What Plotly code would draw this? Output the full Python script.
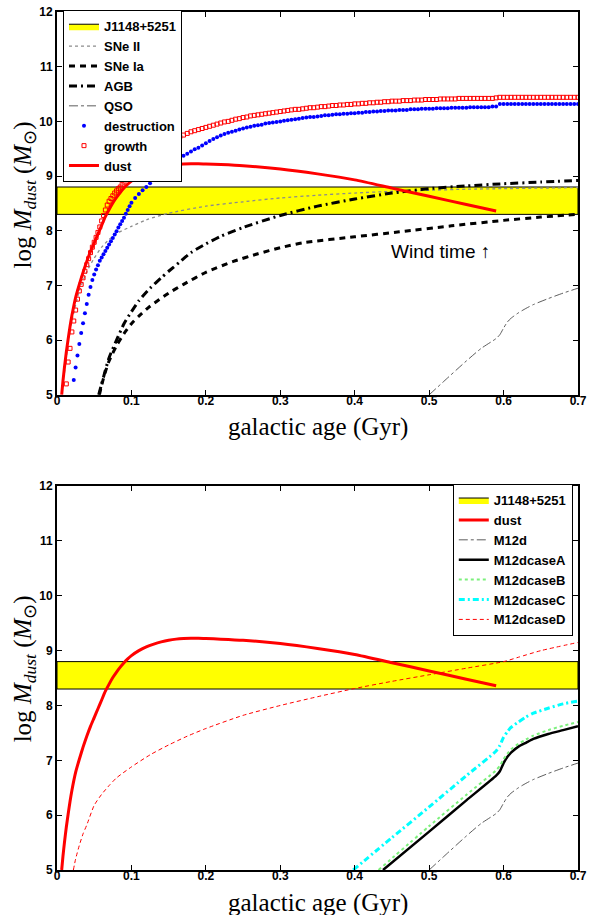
import plotly.graph_objects as go

# ---------------- data ----------------
# observed dust mass range of J1148+5251 (log Msun)
band_lo, band_hi = 8.3, 8.8

# dust (net) evolution, shared by both panels
dust_t = [0.0063, 0.008, 0.01, 0.0125, 0.015, 0.0175, 0.02, 0.025, 0.03, 0.035,
          0.04, 0.045, 0.05, 0.055, 0.06, 0.065, 0.07, 0.075, 0.08, 0.085,
          0.09, 0.095, 0.1, 0.11, 0.12, 0.13, 0.14, 0.15, 0.16, 0.17,
          0.18, 0.19, 0.2, 0.22, 0.25, 0.3, 0.35, 0.4, 0.45, 0.5, 0.55, 0.59]
dust_m = [5.0, 5.25, 5.5, 5.78, 6.02, 6.25, 6.45, 6.78, 7.02, 7.24,
          7.44, 7.62, 7.78, 7.94, 8.1, 8.26, 8.39, 8.51, 8.61, 8.7,
          8.78, 8.85, 8.91, 9.0, 9.07, 9.12, 9.16, 9.19, 9.21, 9.22,
          9.225, 9.225, 9.22, 9.21, 9.19, 9.13, 9.04, 8.93, 8.78, 8.63, 8.48, 8.36]

# stellar sources
sn2_t = [0.01, 0.015, 0.02, 0.03, 0.04, 0.05, 0.06, 0.07, 0.08, 0.1, 0.12, 0.15,
         0.2, 0.25, 0.3, 0.35, 0.4, 0.45, 0.5, 0.55, 0.6, 0.65, 0.7]
sn2_m = [5.4, 5.95, 6.35, 6.9, 7.25, 7.5, 7.7, 7.84, 7.95, 8.08, 8.2, 8.32,
         8.45, 8.53, 8.6, 8.65, 8.69, 8.72, 8.74, 8.76, 8.77, 8.78, 8.79]

sn1a_t = [0.057, 0.06, 0.065, 0.07, 0.08, 0.09, 0.1, 0.11, 0.125, 0.15, 0.17, 0.2,
          0.237, 0.27, 0.3, 0.33, 0.4, 0.46, 0.53, 0.6, 0.65, 0.7]
sn1a_m = [5.0, 5.18, 5.42, 5.62, 5.9, 6.12, 6.3, 6.44, 6.62, 6.86, 7.02, 7.24,
          7.44, 7.58, 7.69, 7.78, 7.89, 7.98, 8.09, 8.19, 8.25, 8.3]

agb_t = [0.056, 0.06, 0.065, 0.07, 0.08, 0.09, 0.1, 0.11, 0.125, 0.14, 0.15, 0.165,
         0.18, 0.2, 0.22, 0.25, 0.3, 0.35, 0.4, 0.45, 0.5, 0.55, 0.6, 0.65, 0.7]
agb_m = [5.0, 5.2, 5.45, 5.68, 6.0, 6.3, 6.52, 6.72, 6.95, 7.14, 7.26, 7.43,
         7.6, 7.76, 7.9, 8.06, 8.28, 8.45, 8.58, 8.69, 8.77, 8.82, 8.86, 8.89, 8.92]

qso_t = [0.5, 0.52, 0.55, 0.57, 0.59, 0.595, 0.6, 0.605, 0.61, 0.62, 0.63, 0.64,
         0.66, 0.68, 0.7]
qso_m = [5.0, 5.25, 5.62, 5.85, 6.03, 6.1, 6.22, 6.33, 6.4, 6.5, 6.58, 6.65,
         6.76, 6.86, 6.95]

# ISM processes sampled on the model time grid
t_late = [0.105, 0.11, 0.115, 0.12, 0.125, 0.13, 0.135, 0.14, 0.145, 0.15,
          0.155, 0.16, 0.165, 0.17, 0.175, 0.18, 0.185, 0.19, 0.195, 0.2,
          0.205, 0.21, 0.215, 0.22, 0.225, 0.23, 0.235, 0.24, 0.245, 0.25,
          0.255, 0.26, 0.265, 0.27, 0.275, 0.28, 0.285, 0.29, 0.295, 0.3,
          0.305, 0.31, 0.315, 0.32, 0.325, 0.33, 0.335, 0.34, 0.345, 0.35,
          0.355, 0.36, 0.365, 0.37, 0.375, 0.38, 0.385, 0.39, 0.395, 0.4,
          0.405, 0.41, 0.415, 0.42, 0.425, 0.43, 0.435, 0.44, 0.445, 0.45,
          0.455, 0.46, 0.465, 0.47, 0.475, 0.48, 0.485, 0.49, 0.495, 0.5,
          0.505, 0.51, 0.515, 0.52, 0.525, 0.53, 0.535, 0.54, 0.545, 0.55,
          0.555, 0.56, 0.565, 0.57, 0.575, 0.58, 0.585, 0.59, 0.595, 0.6,
          0.605, 0.61, 0.615, 0.62, 0.625, 0.63, 0.635, 0.64, 0.645, 0.65,
          0.655, 0.66, 0.665, 0.67, 0.675, 0.68, 0.685, 0.69, 0.695, 0.7]

growth_t_early = [0.0125, 0.015, 0.0175, 0.02, 0.0225, 0.025, 0.0275, 0.03, 0.0325,
                  0.035, 0.0375, 0.04, 0.0425, 0.045, 0.0475, 0.05, 0.0525, 0.055,
                  0.0575, 0.06, 0.0625, 0.065, 0.0675, 0.07, 0.0725, 0.075, 0.0775,
                  0.08, 0.0825, 0.085, 0.0875, 0.09, 0.0925, 0.095, 0.0975, 0.1]
growth_m = [5.2, 5.6, 5.85, 6.15, 6.35, 6.55, 6.75, 6.9, 7.02,
            7.14, 7.26, 7.38, 7.49, 7.6, 7.7, 7.79, 7.88, 7.97,
            8.07, 8.18, 8.28, 8.38, 8.47, 8.54, 8.59, 8.64, 8.69,
            8.73, 8.77, 8.8, 8.85, 8.89, 8.94, 8.98, 9.02, 9.06,
            9.13, 9.2, 9.26, 9.32, 9.39, 9.45, 9.5, 9.55, 9.59, 9.63,
            9.66, 9.69, 9.72, 9.75, 9.78, 9.81, 9.83, 9.85, 9.87, 9.89,
            9.91, 9.93, 9.95, 9.97, 9.99, 10.0, 10.02, 10.04, 10.05, 10.07,
            10.08, 10.1, 10.11, 10.12, 10.13, 10.14, 10.15, 10.16, 10.17, 10.18,
            10.19, 10.2, 10.21, 10.22, 10.22, 10.23, 10.24, 10.25, 10.25, 10.26,
            10.27, 10.27, 10.28, 10.29, 10.29, 10.3, 10.3, 10.31, 10.31, 10.32,
            10.32, 10.33, 10.33, 10.34, 10.34, 10.35, 10.35, 10.36, 10.36, 10.37,
            10.37, 10.37, 10.38, 10.38, 10.38, 10.39, 10.39, 10.39, 10.4, 10.4,
            10.4, 10.4, 10.41, 10.41, 10.41, 10.41, 10.41, 10.42, 10.42, 10.42,
            10.42, 10.42, 10.42, 10.42, 10.42, 10.42, 10.42, 10.43, 10.44, 10.44,
            10.44, 10.44, 10.44, 10.44, 10.44, 10.44, 10.44, 10.44, 10.44, 10.44,
            10.44, 10.44, 10.44, 10.44, 10.44, 10.44, 10.44, 10.44, 10.44, 10.44]

destr_t_early = [0.0225, 0.025, 0.0275, 0.03, 0.0325, 0.035, 0.0375, 0.04,
                 0.0425, 0.045, 0.0475, 0.05, 0.0525, 0.055, 0.0575, 0.06,
                 0.0625, 0.065, 0.0675, 0.07, 0.0725, 0.075, 0.0775, 0.08,
                 0.0825, 0.085, 0.0875, 0.09, 0.0925, 0.095, 0.0975, 0.1]
destr_m = [5.27, 5.5, 5.72, 5.93, 6.13, 6.31, 6.49, 6.66,
           6.83, 6.97, 7.1, 7.2, 7.29, 7.37, 7.45, 7.51,
           7.57, 7.63, 7.69, 7.75, 7.81, 7.87, 7.93, 7.99,
           8.06, 8.12, 8.18, 8.24, 8.31, 8.38, 8.45, 8.51,
           8.6, 8.67, 8.74, 8.8, 8.87, 8.93, 8.99, 9.05, 9.12, 9.18,
           9.23, 9.28, 9.32, 9.37, 9.41, 9.45, 9.49, 9.52, 9.56, 9.6,
           9.64, 9.68, 9.71, 9.74, 9.77, 9.79, 9.81, 9.83, 9.85, 9.87,
           9.89, 9.9, 9.92, 9.93, 9.94, 9.96, 9.97, 9.98, 9.99, 10.0,
           10.01, 10.02, 10.03, 10.04, 10.05, 10.06, 10.07, 10.08, 10.08, 10.09,
           10.1, 10.11, 10.11, 10.12, 10.13, 10.13, 10.14, 10.14, 10.15, 10.15,
           10.16, 10.16, 10.17, 10.17, 10.18, 10.18, 10.19, 10.19, 10.2, 10.2,
           10.2, 10.21, 10.21, 10.21, 10.22, 10.22, 10.22, 10.23, 10.23, 10.23,
           10.23, 10.24, 10.24, 10.24, 10.24, 10.25, 10.25, 10.25, 10.25, 10.25,
           10.26, 10.26, 10.26, 10.26, 10.26, 10.26, 10.27, 10.27, 10.32, 10.32,
           10.32, 10.32, 10.32, 10.32, 10.32, 10.32, 10.32, 10.32, 10.32, 10.32,
           10.32, 10.32, 10.32, 10.32, 10.32, 10.32, 10.32, 10.32, 10.32, 10.32]

# comparison models (lower panel)
caseA_t = [0.438, 0.5, 0.55, 0.59, 0.595, 0.6, 0.605, 0.61, 0.62, 0.63, 0.64, 0.66, 0.68, 0.7]
caseA_m = [5.0, 5.7, 6.27, 6.72, 6.8, 6.95, 7.06, 7.14, 7.25, 7.32, 7.39, 7.48, 7.55, 7.62]
caseB_t = [0.432, 0.5, 0.55, 0.59, 0.595, 0.6, 0.605, 0.61, 0.62, 0.63, 0.64, 0.66, 0.68, 0.7]
caseB_m = [5.0, 5.8, 6.37, 6.82, 6.9, 7.02, 7.12, 7.2, 7.3, 7.38, 7.45, 7.55, 7.63, 7.7]
caseC_t = [0.398, 0.45, 0.5, 0.55, 0.59, 0.595, 0.6, 0.605, 0.61, 0.62, 0.63, 0.64, 0.66, 0.68, 0.7]
caseC_m = [5.0, 5.59, 6.15, 6.72, 7.17, 7.27, 7.42, 7.52, 7.6, 7.7, 7.79, 7.86, 7.95, 8.03, 8.08]
caseD_t = [0.022, 0.025, 0.03, 0.035, 0.04, 0.05, 0.06, 0.07, 0.08, 0.1, 0.125, 0.15,
           0.175, 0.2, 0.25, 0.3, 0.35, 0.4, 0.45, 0.5, 0.55, 0.6, 0.62, 0.65, 0.7]
caseD_m = [5.0, 5.2, 5.45, 5.66, 5.82, 6.18, 6.38, 6.54, 6.68, 6.88, 7.1, 7.28,
           7.44, 7.58, 7.82, 8.0, 8.16, 8.31, 8.44, 8.56, 8.68, 8.8, 8.88, 9.0, 9.15]

x_ticks = [0, 0.1, 0.2, 0.3, 0.4, 0.5, 0.6, 0.7]
x_ticklabels = ["0", "0.1", "0.2", "0.3", "0.4", "0.5", "0.6", "0.7"]
y_ticks = [5, 6, 7, 8, 9, 10, 11, 12]

# ---------------- figure ----------------
SANS = "Liberation Sans, Arial, Helvetica, sans-serif"
SERIF = "Liberation Serif, Times New Roman, serif"

fig = go.Figure()


def band_trace(xa, ya, legend):
    return go.Scatter(
        x=[0, 0.7, 0.7, 0, 0], y=[band_lo, band_lo, band_hi, band_hi, band_lo],
        xaxis=xa, yaxis=ya, mode="lines", fill="toself", fillcolor="#ffff00",
        line=dict(color="black", width=1), name="J1148+5251", legend=legend,
        hoverinfo="skip")


def line_trace(t, m, name, color, width, dash, xa, ya, legend):
    return go.Scatter(x=t, y=m, xaxis=xa, yaxis=ya, mode="lines", name=name,
                      line=dict(color=color, width=width, dash=dash, shape="spline",
                                smoothing=0.6),
                      legend=legend)


# upper panel
fig.add_trace(band_trace("x", "y", "legend"))
fig.add_trace(line_trace(sn2_t, sn2_m, "SNe II", "#8c8c8c", 1.3, "dot", "x", "y", "legend"))
fig.add_trace(line_trace(sn1a_t, sn1a_m, "SNe Ia", "black", 3, "6px,5px", "x", "y", "legend"))
fig.add_trace(line_trace(agb_t, agb_m, "AGB", "black", 3, "8px,4px,2px,4px", "x", "y", "legend"))
fig.add_trace(line_trace(qso_t, qso_m, "QSO", "#333333", 0.8, "dashdot", "x", "y", "legend"))
fig.add_trace(go.Scatter(x=destr_t_early + t_late, y=destr_m, xaxis="x", yaxis="y",
                         mode="markers", name="destruction", legend="legend",
                         marker=dict(symbol="circle", size=4, color="#0000ff")))
fig.add_trace(go.Scatter(x=growth_t_early + t_late, y=growth_m, xaxis="x", yaxis="y",
                         mode="markers", name="growth", legend="legend",
                         marker=dict(symbol="square-open", size=4, color="#ff0000",
                                     line=dict(width=1, color="#ff0000"))))
fig.add_trace(line_trace(dust_t, dust_m, "dust", "#ff0000", 3, "solid", "x", "y", "legend"))

# lower panel
fig.add_trace(band_trace("x2", "y2", "legend2"))
fig.add_trace(line_trace(dust_t, dust_m, "dust", "#ff0000", 3, "solid", "x2", "y2", "legend2"))
fig.add_trace(line_trace(qso_t, qso_m, "M12d", "#333333", 0.8, "dashdot", "x2", "y2", "legend2"))
fig.add_trace(line_trace(caseA_t, caseA_m, "M12dcaseA", "black", 2.5, "solid", "x2", "y2", "legend2"))
fig.add_trace(line_trace(caseB_t, caseB_m, "M12dcaseB", "#7cf07c", 2, "dot", "x2", "y2", "legend2"))
fig.add_trace(line_trace(caseC_t, caseC_m, "M12dcaseC", "#00ffff", 3, "6px,3px,2px,3px", "x2", "y2", "legend2"))
fig.add_trace(line_trace(caseD_t, caseD_m, "M12dcaseD", "#ff0000", 1, "4px,3px", "x2", "y2", "legend2"))

axis_common = dict(showline=True, linewidth=2, linecolor="black", mirror="ticks",
                   ticks="inside", ticklen=5, tickwidth=1, tickcolor="black",
                   showgrid=False, zeroline=False,
                   tickfont=dict(family=SANS, size=12, color="black", weight="bold"))

top_lo, top_hi = 0.5538, 1.0
bot_lo, bot_hi = 0.0, 0.4474

fig.update_layout(
    width=610, height=915,
    margin=dict(l=57, r=32, t=5, b=45),
    paper_bgcolor="white", plot_bgcolor="white",
    xaxis=dict(domain=[0, 1], anchor="y", range=[0, 0.7], tickvals=x_ticks,
               ticktext=x_ticklabels, ticklabelstandoff=-6, **axis_common),
    yaxis=dict(domain=[top_lo, top_hi], anchor="x", range=[5, 12], tickvals=y_ticks,
               **axis_common),
    xaxis2=dict(domain=[0, 1], anchor="y2", range=[0, 0.7], tickvals=x_ticks,
                ticktext=x_ticklabels, ticklabelstandoff=-6, **axis_common),
    yaxis2=dict(domain=[bot_lo, bot_hi], anchor="x2", range=[5, 12], tickvals=y_ticks,
                **axis_common),
    legend=dict(x=0.0115, y=1.002, xanchor="left", yanchor="top",
                bgcolor="white", bordercolor="black", borderwidth=1,
                font=dict(family=SANS, size=13, color="black", weight="bold"),
                itemwidth=30, tracegroupgap=0),
    legend2=dict(x=0.990, y=0.4498, xanchor="right", yanchor="top",
                 bgcolor="white", bordercolor="black", borderwidth=1,
                 font=dict(family=SANS, size=13, color="black", weight="bold"),
                 itemwidth=30, tracegroupgap=0),
    showlegend=True,
)

xtitle = "galactic age (Gyr)"
ytitle = "log <i>M</i><sub><i>dust</i></sub> (<i>M</i><sub>⊙</sub>)"
title_font = dict(family=SERIF, size=25, color="black")
annotations = [
    dict(text=xtitle, x=0.5, y=0.5165, xref="paper", yref="paper", showarrow=False,
         xanchor="center", yanchor="middle", font=title_font),
    dict(text=xtitle, x=0.5, y=-0.038, xref="paper", yref="paper", showarrow=False,
         xanchor="center", yanchor="middle", font=title_font),
    dict(text=ytitle, x=-0.062, y=0.787, xref="paper", yref="paper", showarrow=False,
         xanchor="center", yanchor="middle", textangle=-90, font=title_font),
    dict(text=ytitle, x=-0.062, y=0.2347, xref="paper", yref="paper", showarrow=False,
         xanchor="center", yanchor="middle", textangle=-90, font=title_font),
    dict(text="Wind time ↑", x=0.5146, y=7.62, xref="x", yref="y", showarrow=False,
         xanchor="center", yanchor="middle",
         font=dict(family=SANS, size=19, color="black")),
]
fig.update_layout(annotations=annotations)

fig.write_html("out.html")
